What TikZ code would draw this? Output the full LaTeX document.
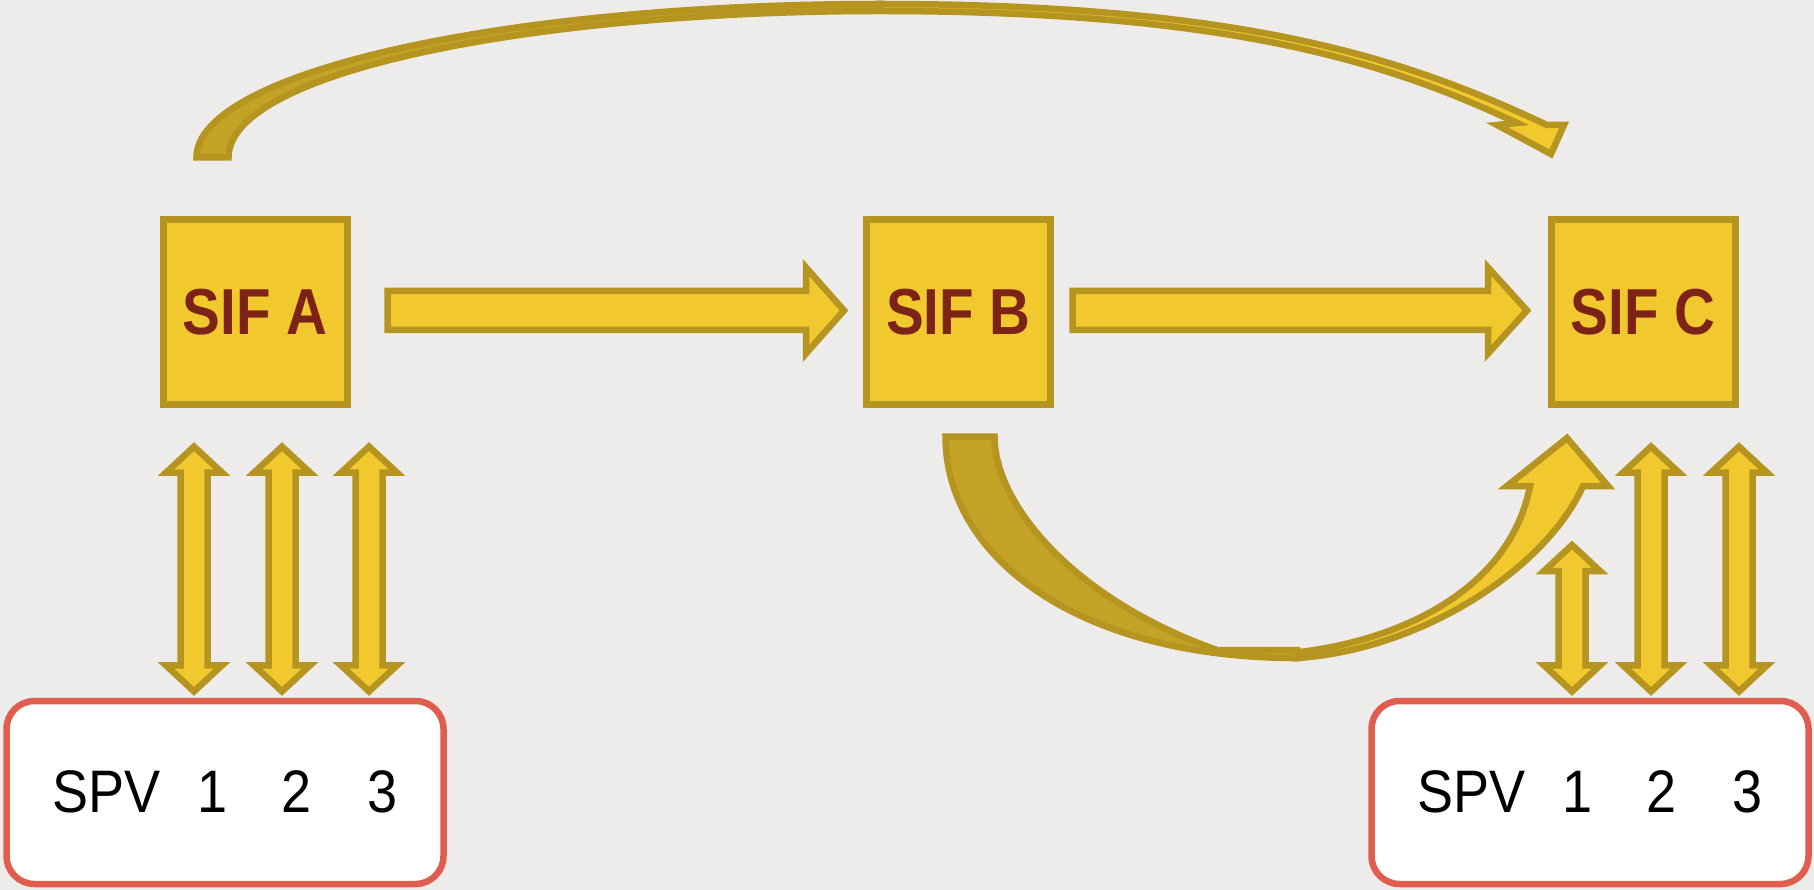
\documentclass[tikz,border=0pt]{standalone}
\usepackage{fontspec}
\newfontfamily\siffont{Liberation Sans}[FakeStretch=0.87]
\newfontfamily\spvfont{Liberation Sans}[FakeStretch=0.9]
\definecolor{bg}{RGB}{237,236,234}
\definecolor{gold}{RGB}{242,200,47}
\definecolor{goldline}{RGB}{181,148,31}
\definecolor{golddark}{RGB}{196,162,38}
\definecolor{sifred}{RGB}{125,34,22}
\definecolor{spvred}{RGB}{224,94,80}
\tikzset{
  sif/.style={draw=goldline, fill=gold, line width=7pt, minimum width=184pt, minimum height=184pt, inner sep=0pt,
    font=\siffont\bfseries\fontsize{65}{70}\selectfont, text=sifred},
  spv/.style={draw=spvred, fill=white, line width=6.5pt, rounded corners=28pt, minimum width=437pt, minimum height=183pt,
    inner sep=0pt, font=\spvfont\fontsize{60}{66}\selectfont, text=black},
  blockarrow/.style={draw=goldline, fill=gold, line width=6.5pt, line join=miter},
  ribbonback/.style={draw=goldline, fill=golddark, line width=6.5pt, line join=miter},
  ribbonfront/.style={draw=goldline, fill=gold, line width=6.5pt, line join=miter},
}
\newcommand{\harr}[4]{\draw[blockarrow] ({#1},{#4-19.5}) -- ({#2},{#4-19.5}) -- ({#2},{#4-43}) -- ({#3},{#4}) -- ({#2},{#4+43}) -- ({#2},{#4+19.5}) -- ({#1},{#4+19.5}) -- cycle;}
\newcommand{\vdarr}[3]{\draw[blockarrow] ({#1},{#2}) -- ({#1+28},{#2+26}) -- ({#1+13.5},{#2+26}) -- ({#1+13.5},{#3-26}) -- ({#1+28},{#3-26}) -- ({#1},{#3}) -- ({#1-28},{#3-26}) -- ({#1-13.5},{#3-26}) -- ({#1-13.5},{#2+26}) -- ({#1-28},{#2+26}) -- cycle;}
\begin{document}
\begin{tikzpicture}[x=1pt,y=-1pt]
\useasboundingbox (0,0) rectangle (1814,890);
\fill[bg] (0,0) rectangle (1814,890);

% SIF boxes
\node[sif] (A) at (255,312) {SIF A};
\node[sif] (B) at (958.5,312) {SIF B};
\node[sif] (C) at (1643,312) {SIF C};

% SPV boxes
\node[spv, text depth=2.5pt] (L) at (225,792.5) {SPV\hspace{37.5pt}1\hspace{54pt}2\hspace{56pt}3};
\node[spv, text depth=2.5pt] (R) at (1590,792.5) {SPV\hspace{37.5pt}1\hspace{54pt}2\hspace{56pt}3};

% straight arrows A->B, B->C
\harr{387.5}{806}{844}{310.5}
\harr{1072.5}{1488}{1527}{310.5}

% vertical double arrows
\vdarr{194}{446.6}{691.4}
\vdarr{282}{446.6}{691.4}
\vdarr{369}{446.6}{691.4}
\vdarr{1572}{545}{691.4}
\vdarr{1651}{446.6}{691.4}
\vdarr{1739}{446.6}{691.4}

% top curved arrow A -> C
\draw[ribbonback] (196.5,157.5) .. controls (196.5,72.8) and (502.7,4) .. (880,4)
  -- (880,11) .. controls (540,11) and (228.5,70) .. (228.5,157.5) -- cycle;
\draw[ribbonfront] (880,4) .. controls (1250,4) and (1411,61) .. (1547,125)
  -- (1564,125) -- (1551,154) -- (1497,125) -- (1517,123)
  .. controls (1395,66) and (1240,11) .. (880,11) -- cycle;

% bottom curved arrow B -> C
\draw[ribbonback] (945.5,436.5) .. controls (945.5,556.5) and (1077,658) .. (1297,658)
  -- (1297,650) -- (1217,650) .. controls (1075,600) and (994.5,505) .. (994.5,436.5) -- cycle;
\draw[ribbonfront] (1297,658) .. controls (1420,650) and (1545,570) .. (1583,486)
  -- (1608,486) -- (1567,438) -- (1507,486) -- (1530,486)
  .. controls (1510,590) and (1400,640) .. (1300,652) -- cycle;
\end{tikzpicture}
\end{document}
